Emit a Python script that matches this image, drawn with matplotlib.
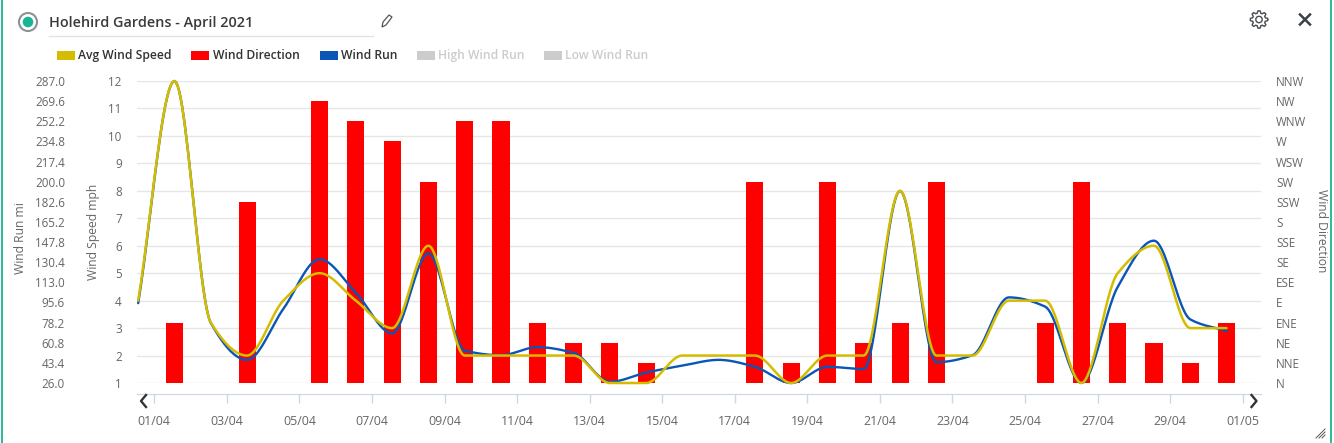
import numpy as np
import matplotlib
matplotlib.use("Agg")
import matplotlib.pyplot as plt
from matplotlib.patches import Rectangle, Circle, Polygon

plt.rcParams['font.family'] = ['Open Sans', 'DejaVu Sans']

W, H = 1334, 443
TITLE = "Holehird Gardens - April 2021"
DAY_IDX = list(range(31))
AVG_WIND_SPEED = [4, 12, 3.2, 2, 4, 5, 4, 3, 6, 2, 2, 2, 2, 1, 1, 2, 2, 2, 1, 2, 2, 8, 2, 2, 4, 4, 1, 5, 6, 3, 3]
WIND_RUN = [95, 287, 78, 46, 90, 133, 104, 69, 138, 54, 50, 57, 52, 27, 35, 41, 46, 40, 26, 40, 38, 192, 44, 50, 100, 92, 26, 109, 149, 81, 71]
DIR_IDX = [1, 3, 5, 6, 7, 8, 9, 10, 11, 12, 13, 14, 17, 18, 19, 20, 21, 22, 25, 26, 27, 28, 29, 30]
DIR_VAL = [3, 9, 14, 13, 12, 10, 13, 13, 3, 2, 2, 1, 10, 1, 10, 2, 3, 10, 3, 10, 3, 2, 1, 3]
COMPASS = ["N", "NNE", "NE", "ENE", "E", "ESE", "SE", "SSE", "S", "SSW", "SW", "WSW", "W", "WNW", "NW", "NNW"]
SPEED_TICKS = list(range(1, 13))
RUN_TICKS = [26.0, 43.4, 60.8, 78.2, 95.6, 113.0, 130.4, 147.8, 165.2, 182.6, 200.0, 217.4, 234.8, 252.2, 269.6, 287.0]
DATE_LABELS = ["01/04", "03/04", "05/04", "07/04", "09/04", "11/04", "13/04", "15/04", "17/04", "19/04", "21/04", "23/04", "25/04", "27/04", "29/04", "01/05"]
LEGEND = [("Avg Wind Speed", "#d4bc00", 57, 78, "#333333"), ("Wind Direction", "#ff0000", 191, 213, "#333333"),
          ("Wind Run", "#0a55b5", 320, 341, "#333333"), ("High Wind Run", "#cccccc", 417, 438, "#cccccc"),
          ("Low Wind Run", "#cccccc", 544, 565, "#cccccc")]


def smooth(x, y, n=24):
    """Monotone cubic curve through the given points, for the drawn line shape."""
    x, y = np.asarray(x, float), np.asarray(y, float)
    h = np.diff(x)
    d = np.diff(y) / h
    m = np.zeros_like(y)
    m[0], m[-1] = d[0], d[-1]
    for i in range(1, len(y) - 1):
        m[i] = 0 if d[i - 1] * d[i] <= 0 else 2 * d[i - 1] * d[i] / (d[i - 1] + d[i])
    xs, ys = [], []
    for i in range(len(h)):
        t = np.linspace(0, 1, n, endpoint=False)
        a = (1 + 2 * t) * (1 - t) ** 2
        b = t * (1 - t) ** 2
        c = t ** 2 * (3 - 2 * t)
        e = t ** 2 * (t - 1)
        xs.append(x[i] + t * h[i])
        ys.append(a * y[i] + b * h[i] * m[i] + c * y[i + 1] + e * h[i] * m[i + 1])
    return np.r_[np.concatenate(xs), x[-1]], np.r_[np.concatenate(ys), y[-1]]


fig = plt.figure(figsize=(W / 100, H / 100), dpi=100, facecolor="white")
L, R, T, B = 137, 1261, 81, 383
rect = [L / W, 1 - B / H, (R - L) / W, (B - T) / H]
XLIM = (-0.033, 30.95)
GREY = "#666666"


def make_ax(z):
    a = fig.add_axes(rect, zorder=z, facecolor="none")
    a.set_xlim(*XLIM)
    for s in a.spines.values():
        s.set_visible(False)
    a.set_xticks([])
    a.set_yticks([])
    return a


# Speed axis with gridlines (lowest layer)
ax_grid = make_ax(1)
ax_grid.set_ylim(1, 12)
ax_grid.set_yticks(SPEED_TICKS)
ax_grid.set_yticklabels([str(v) for v in SPEED_TICKS], fontsize=8.4, color=GREY)
ax_grid.tick_params(axis="y", length=0, pad=11)
ax_grid.grid(axis="y", color="#e6e6e6", lw=1)
ax_grid.set_axisbelow(True)
ax_grid.spines["bottom"].set_visible(True)
ax_grid.spines["bottom"].set_position(("outward", 11 * 0.72))
ax_grid.spines["bottom"].set_color("#ccd6eb")
ax_grid.set_xticks([i + 0.444 for i in DAY_IDX[::2]])
ax_grid.set_xticklabels(DATE_LABELS, fontsize=8.9, color=GREY)
ax_grid.tick_params(axis="x", length=6.5, width=1, color="#ccd6eb", pad=8.5)

# Direction bars
ax_dir = make_ax(2)
ax_dir.set_ylim(0, 15)
ax_dir.bar(DIR_IDX, DIR_VAL, width=0.47, color="#ff0000", linewidth=0)
ax_dir.yaxis.tick_right()
ax_dir.set_yticks(range(len(COMPASS)))
ax_dir.set_yticklabels(COMPASS, fontsize=8.4, color=GREY)
ax_dir.tick_params(axis="y", length=0, pad=11)

# Wind run
ax_run = make_ax(3)
ax_run.set_ylim(26, 287)
ax_run.plot(*smooth(DAY_IDX, WIND_RUN), color="#0a55b5", lw=1.7, clip_on=False, solid_capstyle="round")
ax_run.set_yticks(RUN_TICKS)
ax_run.set_yticklabels([f"{v:.1f}" for v in RUN_TICKS], fontsize=8.4, color=GREY)
ax_run.tick_params(axis="y", length=0, pad=(137 - 65) * 0.72)

# Average speed
ax_spd = make_ax(4)
ax_spd.set_ylim(1, 12)
ax_spd.plot(*smooth(DAY_IDX, AVG_WIND_SPEED), color="#d4bc00", lw=1.8, clip_on=False, solid_capstyle="round")

# Page furniture, in pixel coordinates
ui = fig.add_axes([0, 0, 1, 1], zorder=5, facecolor="none")
ui.set_xlim(0, W)
ui.set_ylim(H, 0)
ui.axis("off")
ui.plot([1.5, 1.5], [0, H], color="#1ab394", lw=1.3)
ui.plot([1330.5, 1330.5], [0, H], color="#1ab394", lw=1.3)
ui.add_patch(Circle((28, 22), 9, fc="white", ec="#8a9296", lw=1.5))
ui.add_patch(Circle((28, 22), 5.3, fc="#1ab394", ec="none"))
ui.text(49, 23, TITLE, fontsize=10.35, color="#3a3a3a", va="center", ha="left", fontweight="semibold")
ui.plot([49, 373], [35.5, 35.5], color="#e3e3e3", lw=1)

# Pencil
ui.add_patch(Polygon([(382, 27), (383, 22), (389, 15), (392, 17), (386, 25)], closed=True, fc="white", ec="#555555", lw=0.9))

# Gear
th = np.linspace(0, 2 * np.pi, 97)
rg = 7.6 + 1.1 * np.clip(3 * np.cos(8 * th), -1, 1)
ui.plot(1259 + rg * np.cos(th), 19.5 + rg * np.sin(th), color="#4a4f55", lw=1)
ui.add_patch(Circle((1259, 19.5), 3.2, fc="none", ec="#4a4f55", lw=1))

# Close
ui.plot([1300, 1310], [14.5, 24.5], color="#3a4048", lw=1.8)
ui.plot([1300, 1310], [24.5, 14.5], color="#3a4048", lw=1.8)

# Legend
for name, col, xs, xt, tc in LEGEND:
    ui.add_patch(Rectangle((xs, 51), 18, 8.5, fc=col, ec="none"))
    ui.text(xt, 55.5, name, fontsize=8.7, color=tc, va="center", ha="left", fontweight="semibold")

# Axis titles
ui.text(20, 238, "Wind Run mi", rotation=90, fontsize=8.7, color=GREY, ha="center", va="center")
ui.text(94, 232, "Wind Speed mph", rotation=90, fontsize=8.7, color=GREY, ha="center", va="center")
ui.text(1321, 231, "Wind Direction", rotation=270, fontsize=8.7, color=GREY, ha="center", va="center")

# Scroll arrows
ui.plot([146, 141, 146], [395, 401, 407], color="#333333", lw=1.7)
ui.plot([1251.5, 1256.5, 1251.5], [395, 401, 407], color="#333333", lw=1.7)

# Resize grip
for d in (3, 6, 9):
    ui.plot([1325 - d, 1325], [438, 438 - d], color="#555555", lw=0.7)

fig.savefig("out.png", dpi=100)
